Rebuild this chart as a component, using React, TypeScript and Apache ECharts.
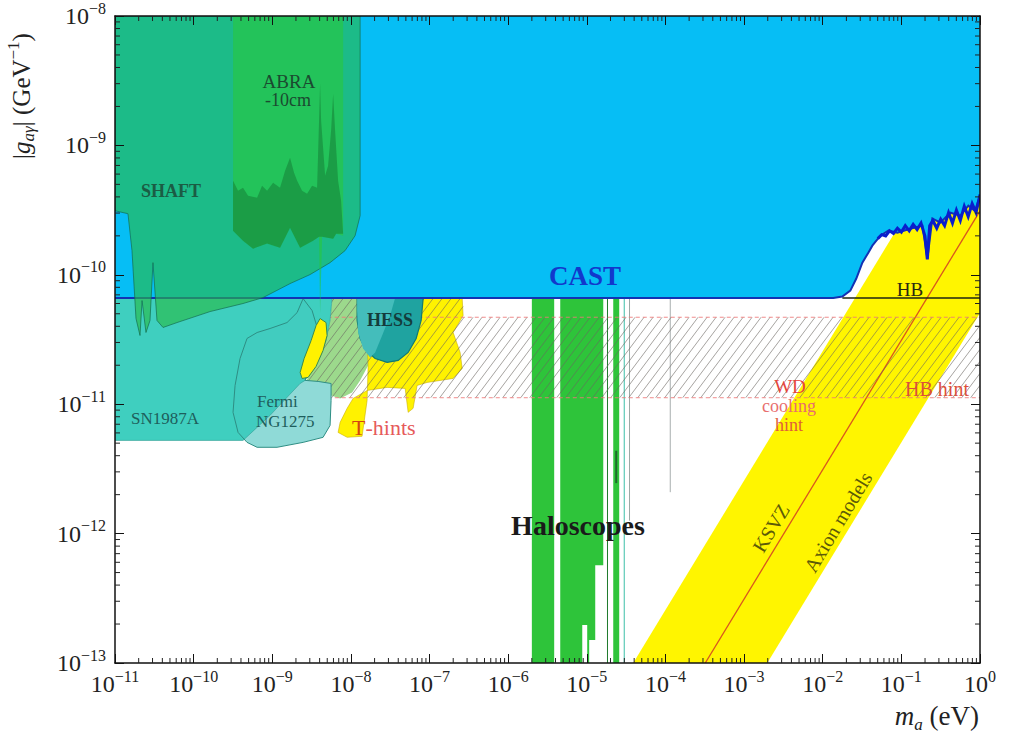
import React, { useEffect, useRef } from 'react';
import * as echarts from 'echarts';

type P = [number, number];
// All coordinates are [log10(m_a / eV), log10(|g_aγ| / GeV^-1)]

const xDecades = [-11, -10, -9, -8, -7, -6, -5, -4, -3, -2, -1, 0];
const yDecades = [-13, -12, -11, -10, -9, -8];
const minorFactors = [2, 3, 4, 5, 6, 7, 8, 9];

const castRegion: P[] = [
  [-11, -8], [0, -8], [0, -9.389], [-0.064, -9.505], [-0.148, -9.466], [-0.249, -9.543],
  [-0.377, -9.52], [-0.504, -9.597], [-0.606, -9.566], [-0.669, -9.875], [-0.733, -9.62],
  [-0.886, -9.644], [-1.051, -9.674], [-1.165, -9.659], [-1.267, -9.698], [-1.369, -9.775],
  [-1.42, -9.829], [-1.496, -9.906], [-1.573, -10.029], [-1.649, -10.122], [-1.751, -10.168],
  [-1.865, -10.18], [-11, -10.18],
];
const castNoise: P[] = [
  [-1.3, -9.72], [-1.25, -9.69], [-1.2, -9.7], [-1.15, -9.66], [-1.1, -9.68], [-1.05, -9.64],
  [-1.0, -9.67], [-0.95, -9.62], [-0.9, -9.66], [-0.85, -9.61], [-0.8, -9.65], [-0.75, -9.6],
  [-0.7, -9.7], [-0.67, -9.88], [-0.64, -9.62], [-0.6, -9.58], [-0.55, -9.64], [-0.5, -9.57],
  [-0.45, -9.62], [-0.4, -9.52], [-0.35, -9.6], [-0.3, -9.5], [-0.25, -9.58], [-0.2, -9.47],
  [-0.15, -9.55], [-0.1, -9.45], [-0.05, -9.52], [0, -9.38],
];
const hbLine: P[] = [[-1.75, -10.18], [0, -10.18]];

const axionBand: P[] = [[-4.41, -13], [-2.705, -13], [0, -10.295], [0, -8.59]];
const ksvzLine: P[] = [[-3.494, -13], [0, -9.506]];

const tHintsMain: P[] = [
  [-7.819, -10.18], [-6.585, -10.18], [-6.573, -10.315], [-6.7, -10.446], [-6.611, -10.6],
  [-6.585, -10.724], [-6.7, -10.801], [-7.031, -10.832], [-7.158, -10.855], [-7.209, -11.032],
  [-7.272, -11.063], [-7.31, -10.878], [-7.539, -10.87], [-7.794, -10.894], [-7.972, -10.955],
  [-8.048, -11.032], [-8.137, -11.14], [-8.163, -11.218], [-8.048, -11.256], [-7.858, -11.248],
  [-7.794, -10.971], [-7.781, -10.701],
];
const tHintsSliver: P[] = [
  [-8.392, -10.338], [-8.316, -10.369], [-8.303, -10.469], [-8.354, -10.585], [-8.443, -10.708],
  [-8.545, -10.793], [-8.621, -10.801], [-8.646, -10.755], [-8.595, -10.647], [-8.506, -10.508],
  [-8.443, -10.392],
];
const lightGreenRegion: P[] = [
  [-8.239, -10.18], [-7.781, -10.18], [-7.781, -10.701], [-7.883, -10.816], [-7.985, -10.909],
  [-8.137, -10.955], [-8.252, -10.932], [-8.252, -10.84], [-8.583, -10.832], [-8.417, -10.662],
  [-8.316, -10.508], [-8.265, -10.353],
];

const haloBar1: P[] = [[-5.699, -10.18], [-5.415, -10.18], [-5.415, -13], [-5.699, -13]];
const haloBar2: P[] = [
  [-5.338, -10.18], [-4.791, -10.18], [-4.791, -12.244], [-4.893, -12.244], [-4.893, -12.823],
  [-4.97, -12.823], [-4.97, -13], [-4.995, -13], [-4.995, -12.707], [-5.058, -12.707],
  [-5.058, -13], [-5.338, -13],
];
const haloBar3: P[] = [[-4.664, -10.18], [-4.588, -10.18], [-4.588, -13], [-4.664, -13]];
const haloLineDark: P[] = [[-4.737, -10.18], [-4.737, -13]];
const haloDarkSeg: P[] = [[-4.626, -11.36], [-4.626, -11.61]];
const haloLineTeal: P[] = [[-4.524, -10.18], [-4.524, -13]];
const haloLineGrey1: P[] = [[-4.457, -10.18], [-4.457, -11.9]];
const haloLineGrey2: P[] = [[-3.939, -10.18], [-3.939, -11.68]];

// hatched hint regions: [xMin, yMin, xMax, yMax]
const hintBand = [-8.65, -10.95, 0, -10.328];
const tHintHatch = [-8.265, -10.328, -6.573, -10.18];
const hintBandTop: P[] = [[-8.65, -10.328], [0, -10.328]];
const hintBandBottom: P[] = [[-8.65, -10.95], [0, -10.95]];

const hessOuter: P[] = [
  [-7.921, -10.18], [-7.921, -10.353], [-7.883, -10.492], [-7.807, -10.585], [-7.692, -10.647],
  [-7.539, -10.677], [-7.399, -10.662], [-7.272, -10.6], [-7.17, -10.492], [-7.107, -10.353],
  [-7.081, -10.18],
];
const hessInner: P[] = [
  [-7.921, -10.18], [-7.438, -10.18], [-7.501, -10.315], [-7.603, -10.469], [-7.692, -10.6],
  [-7.756, -10.639], [-7.845, -10.569], [-7.908, -10.446], [-7.921, -10.276],
];

const fermiRegion: P[] = [
  [-8.608, -10.184], [-8.684, -10.292], [-8.812, -10.369], [-9.028, -10.415], [-9.193, -10.446],
  [-9.321, -10.492], [-9.41, -10.647], [-9.473, -10.855], [-9.499, -11.063], [-9.435, -11.218],
  [-9.321, -11.295], [-9.193, -11.333], [-8.939, -11.333], [-8.608, -11.295], [-8.354, -11.256],
  [-8.265, -11.164], [-8.252, -10.971], [-8.252, -10.84], [-8.417, -10.824], [-8.583, -10.816],
  [-8.494, -10.623], [-8.417, -10.431], [-8.494, -10.276],
];
const sn1987aRegion: P[] = [
  [-11, -10.18], [-8.239, -10.18], [-8.265, -10.353], [-8.316, -10.508], [-8.417, -10.662],
  [-8.583, -10.816], [-8.646, -10.84], [-9.028, -11.086], [-9.372, -11.28], [-11, -11.28],
];

const shaftRegion: P[] = [
  [-11, -8], [-7.883, -8], [-7.883, -9.543], [-7.947, -9.698], [-8.074, -9.813], [-8.265, -9.906],
  [-8.519, -9.998], [-8.774, -10.068], [-9.117, -10.176], [-9.372, -10.222], [-9.791, -10.284],
  [-10.211, -10.369], [-10.389, -10.407], [-10.466, -10.353], [-10.517, -9.906], [-10.555, -10.353],
  [-10.606, -10.446], [-10.656, -10.199], [-10.682, -10.469], [-10.733, -10.338], [-10.784, -9.813],
  [-10.835, -9.528], [-11, -9.505],
];
const abraRegion: P[] = [
  [-9.499, -8], [-8.099, -8], [-8.099, -9.698], [-8.188, -9.682], [-8.226, -9.721], [-8.366, -9.705],
  [-8.392, -10.299], [-8.405, -9.705], [-8.481, -9.736], [-8.646, -9.79], [-8.774, -9.636],
  [-8.901, -9.79], [-9.066, -9.759], [-9.244, -9.798], [-9.372, -9.736], [-9.499, -9.659],
];
const abraNoise: P[] = [
  [-9.499, -9.273], [-9.435, -9.35], [-9.372, -9.327], [-9.308, -9.389], [-9.193, -9.404],
  [-9.13, -9.312], [-9.066, -9.35], [-8.99, -9.289], [-8.901, -9.327], [-8.837, -9.196],
  [-8.774, -9.096], [-8.723, -9.211], [-8.684, -9.273], [-8.621, -9.35], [-8.557, -9.373],
  [-8.494, -9.312], [-8.43, -9.327], [-8.405, -8.81], [-8.392, -8.525], [-8.379, -8.81],
  [-8.328, -9.235], [-8.29, -9.157], [-8.252, -8.887], [-8.226, -8.602], [-8.201, -8.887],
  [-8.163, -9.273], [-8.125, -9.427], [-8.099, -9.682], [-8.188, -9.682], [-8.226, -9.721],
  [-8.366, -9.705], [-8.405, -9.705], [-8.481, -9.736], [-8.646, -9.79], [-8.774, -9.636],
  [-8.901, -9.79], [-9.066, -9.759], [-9.244, -9.798], [-9.372, -9.736], [-9.499, -9.659],
];

const SERIF = "'Liberation Serif', 'DejaVu Serif', serif";

let zCounter = 2;
const poly = (pts: P[], style: any) => ({
  type: 'custom', coordinateSystem: 'cartesian2d', silent: true, clip: true, z: zCounter++,
  data: [pts[0]],
  renderItem: (_p: any, api: any) => ({
    type: 'polygon',
    shape: { points: pts.map((p) => api.coord(p)) },
    style,
  }),
});
const pline = (pts: P[], style: any) => ({
  type: 'custom', coordinateSystem: 'cartesian2d', silent: true, clip: true, z: zCounter++,
  data: [pts[0]],
  renderItem: (_p: any, api: any) => ({
    type: 'polyline',
    shape: { points: pts.map((p) => api.coord(p)) },
    style: { fill: null, ...style },
  }),
});
const hatch = (rects: number[][]) => ({
  type: 'custom', coordinateSystem: 'cartesian2d', silent: true, clip: true, z: zCounter++,
  data: [[rects[0][0], rects[0][1]]],
  renderItem: (_p: any, api: any) => {
    const children: any[] = [];
    const k = 0.75; // x shift per unit y
    const step = 9;
    for (const r of rects) {
      const a = api.coord([r[0], r[1]]);
      const b = api.coord([r[2], r[3]]);
      const left = Math.min(a[0], b[0]);
      const right = Math.max(a[0], b[0]);
      const top = Math.min(a[1], b[1]);
      const bottom = Math.max(a[1], b[1]);
      const cMin = Math.floor((left + k * top) / step) * step;
      const cMax = right + k * bottom;
      for (let c = cMin; c <= cMax; c += step) {
        let y1 = bottom, x1 = c - k * bottom;
        let y2 = top, x2 = c - k * top;
        if (x1 < left) { x1 = left; y1 = (c - left) / k; }
        if (x2 > right) { x2 = right; y2 = (c - right) / k; }
        if (x2 <= x1 || y1 <= y2) continue;
        children.push({
          type: 'line',
          shape: { x1, y1, x2, y2 },
          style: { stroke: 'rgba(105,100,95,0.75)', lineWidth: 0.8 },
        });
      }
    }
    return { type: 'group', children };
  },
});

const minorTicks = {
  type: 'custom', coordinateSystem: 'cartesian2d', silent: true, clip: false, z: 60,
  data: [[-11, -13]],
  renderItem: (_p: any, api: any) => {
    const children: any[] = [];
    const [xl, yb] = api.coord([-11, -13]);
    const [xr, yt] = api.coord([0, -8]);
    const st = { stroke: '#222', lineWidth: 1 };
    const L = 5;
    for (const n of xDecades.slice(0, -1)) {
      for (const f of minorFactors) {
        const x = api.coord([n + Math.log10(f), -13])[0];
        children.push({ type: 'line', shape: { x1: x, y1: yb, x2: x, y2: yb - L }, style: st });
        children.push({ type: 'line', shape: { x1: x, y1: yt, x2: x, y2: yt + L }, style: st });
      }
    }
    for (const n of yDecades.slice(0, -1)) {
      for (const f of minorFactors) {
        const y = api.coord([-11, n + Math.log10(f)])[1];
        children.push({ type: 'line', shape: { x1: xl, y1: y, x2: xl + L, y2: y }, style: st });
        children.push({ type: 'line', shape: { x1: xr, y1: y, x2: xr - L, y2: y }, style: st });
      }
    }
    return { type: 'group', children };
  },
};

const expLabel = (v: number) => {
  const e = Math.round(v);
  return `{b|10}{s|${e < 0 ? '\u2212' + -e : e}}`;
};
const labelRich = {
  b: { fontSize: 24, lineHeight: 32, fontFamily: SERIF, color: '#222' },
  s: { fontSize: 16, lineHeight: 17, verticalAlign: 'top', fontFamily: SERIF, color: '#222' },
};

const axisCommon = (show: boolean) => ({
  type: 'value',
  interval: 1,
  z: 50,
  axisLine: { show: true, onZero: false, lineStyle: { color: '#111', width: 1.5 } },
  axisTick: { show: true, inside: true, length: 9, lineStyle: { color: '#111', width: 1 } },
  splitLine: { show: false },
  axisLabel: show
    ? { show: true, formatter: expLabel, rich: labelRich }
    : { show: false },
});

const txt = (x: number, y: number, text: string, font: string, fill: string, extra: any = {}) => ({
  type: 'text', x, y, z: 100, silent: true,
  style: { text, font, fill, align: 'center', verticalAlign: 'middle', ...extra },
});

export default function App() {
  const ref = useRef<HTMLDivElement>(null);
  useEffect(() => {
    if (!ref.current) return;
    const chart = echarts.init(ref.current, undefined, { renderer: 'svg' });
    zCounter = 2;
    const series: any[] = [
      poly(axionBand, { fill: '#FFF500' }),
      pline(ksvzLine, { stroke: '#D9561E', lineWidth: 1.3 }),
      poly(lightGreenRegion, { fill: '#9CD98C' }),
      poly(tHintsMain, { fill: '#FFF200', stroke: 'rgba(200,170,0,0.7)', lineWidth: 0.8 }),
      poly(haloBar1, { fill: '#2EC43A' }),
      poly(haloBar2, { fill: '#2EC43A' }),
      poly(haloBar3, { fill: '#2EC43A' }),
      pline(haloLineDark, { stroke: '#1F7A2C', lineWidth: 1 }),
      pline(haloDarkSeg, { stroke: '#1F6A2C', lineWidth: 2 }),
      pline(haloLineTeal, { stroke: '#3CBFA8', lineWidth: 1 }),
      pline(haloLineGrey1, { stroke: '#9AA8A4', lineWidth: 1 }),
      pline(haloLineGrey2, { stroke: '#A8AEAE', lineWidth: 1 }),
      hatch([hintBand, tHintHatch]),
      pline(hintBandTop, { stroke: 'rgba(238,120,120,0.85)', lineWidth: 1, lineDash: [4, 3] }),
      pline(hintBandBottom, { stroke: 'rgba(238,120,120,0.85)', lineWidth: 1, lineDash: [4, 3] }),
      poly(hessOuter, { fill: '#1FA3A0', stroke: '#127A72', lineWidth: 1.2 }),
      poly(hessInner, { fill: '#44BDBB' }),
      poly(fermiRegion, { fill: '#98DEDA' }),
      poly(sn1987aRegion, { fill: '#3FCFBF', stroke: 'rgba(40,150,140,0.7)', lineWidth: 0.8 }),
      poly(fermiRegion, { fill: 'rgba(80,190,200,0.12)', stroke: '#2E8E84', lineWidth: 1 }),
      poly(tHintsSliver, { fill: '#FFF200', stroke: '#3A8A50', lineWidth: 1 }),
      poly(castRegion, { fill: '#06BEF5' }),
      pline(castRegion.slice(2), { stroke: '#1232B4', lineWidth: 2 }),
      pline(castNoise, { stroke: '#0A1ECC', lineWidth: 3 }),
      pline(hbLine, { stroke: '#1E2410', lineWidth: 1.5 }),
      poly(shaftRegion, { fill: 'rgba(42,186,71,0.625)', stroke: 'rgba(20,110,80,0.7)', lineWidth: 1 }),
      poly(abraRegion, { fill: 'rgba(40,200,60,0.6)' }),
      poly(abraNoise, { fill: 'rgba(20,120,50,0.5)' }),
      minorTicks,
    ];

    const yName = {
      type: 'text', x: 21, y: 96, rotation: Math.PI / 2, z: 100, silent: true,
      style: {
        text: '{n||}{i|g}{sub|a\u03b3}{n|| (GeV}{sup|\u22121}{n|)}',
        align: 'center', verticalAlign: 'middle',
        rich: {
          n: { fontSize: 25, lineHeight: 32, fontFamily: SERIF, fill: '#222' },
          i: { fontSize: 25, lineHeight: 32, fontFamily: SERIF, fontStyle: 'italic', fill: '#222' },
          sub: { fontSize: 17, lineHeight: 15, verticalAlign: 'bottom', fontFamily: SERIF, fontStyle: 'italic', fill: '#222' },
          sup: { fontSize: 17, lineHeight: 15, verticalAlign: 'top', fontFamily: SERIF, fill: '#222' },
        },
      },
    };
    const xName = {
      type: 'text', x: 979, y: 716, z: 100, silent: true,
      style: {
        text: '{i|m}{sub|a}{n| (eV)}',
        align: 'right', verticalAlign: 'middle',
        rich: {
          n: { fontSize: 27, lineHeight: 34, fontFamily: SERIF, fill: '#222' },
          i: { fontSize: 27, lineHeight: 34, fontFamily: SERIF, fontStyle: 'italic', fill: '#222' },
          sub: { fontSize: 17, lineHeight: 16, verticalAlign: 'bottom', fontFamily: SERIF, fontStyle: 'italic', fill: '#222' },
        },
      },
    };
    const rot = 1.03;
    const graphics: any[] = [
      yName,
      xName,
      txt(585, 276, 'CAST', `bold 27px ${SERIF}`, '#1238CC'),
      txt(171, 191, 'SHAFT', `bold 18px ${SERIF}`, '#1B5C44'),
      txt(289, 81, 'ABRA', `19px ${SERIF}`, '#1B4A30'),
      txt(288, 100, '-10cm', `18px ${SERIF}`, '#1B4A30'),
      txt(165, 418, 'SN1987A', `17px ${SERIF}`, '#1E5E5C'),
      txt(257, 401, 'Fermi', `17px ${SERIF}`, '#1E5E5C', { align: 'left' }),
      txt(256, 421, 'NG1275', `17px ${SERIF}`, '#1E5E5C', { align: 'left' }),
      txt(390, 320, 'HESS', `bold 18px ${SERIF}`, '#143C3C'),
      {
        type: 'text', x: 352, y: 427, z: 100, silent: true,
        style: {
          text: '{t|T}{h|-hints}', align: 'left', verticalAlign: 'middle',
          rich: {
            t: { fontSize: 22, fontFamily: SERIF, fill: '#D2460F' },
            h: { fontSize: 22, fontFamily: SERIF, fill: '#E65A5A' },
          },
        },
      },
      txt(578, 525, 'Haloscopes', `bold 28px ${SERIF}`, '#1A1A1A'),
      txt(790, 386, 'WD', `19px ${SERIF}`, '#E6463C'),
      txt(789, 406, 'cooling', `18px ${SERIF}`, '#E86E6E'),
      txt(789, 425, 'hint', `18px ${SERIF}`, '#E0603A'),
      txt(937, 389, 'HB hint', `20px ${SERIF}`, '#DC503A'),
      txt(910, 289, 'HB', `19px ${SERIF}`, '#2A2A12'),
      { ...txt(771, 528, 'KSVZ', `20px ${SERIF}`, '#5C5A08'), rotation: rot },
      { ...txt(838, 522, 'Axion models', `20px ${SERIF}`, '#5C5A08'), rotation: rot },
    ];

    chart.setOption({
      animation: false,
      backgroundColor: '#ffffff',
      grid: { left: 115, right: 29, top: 15, bottom: 70, containLabel: false },
      xAxis: [
        { ...axisCommon(true), min: -11, max: 0, position: 'bottom', axisLabel: { show: true, formatter: expLabel, rich: labelRich, margin: 5 } },
        { ...axisCommon(false), min: -11, max: 0, position: 'top' },
      ],
      yAxis: [
        { ...axisCommon(true), min: -13, max: -8, position: 'left', axisLabel: { show: true, formatter: expLabel, rich: labelRich, margin: 9 } },
        { ...axisCommon(false), min: -13, max: -8, position: 'right' },
      ],
      series,
      graphic: graphics,
    });
    return () => chart.dispose();
  }, []);
  return (
    <div
      ref={ref}
      style={{ position: 'fixed', left: 0, top: 0, width: 1009, height: 733, background: '#fff' }}
    />
  );
}
